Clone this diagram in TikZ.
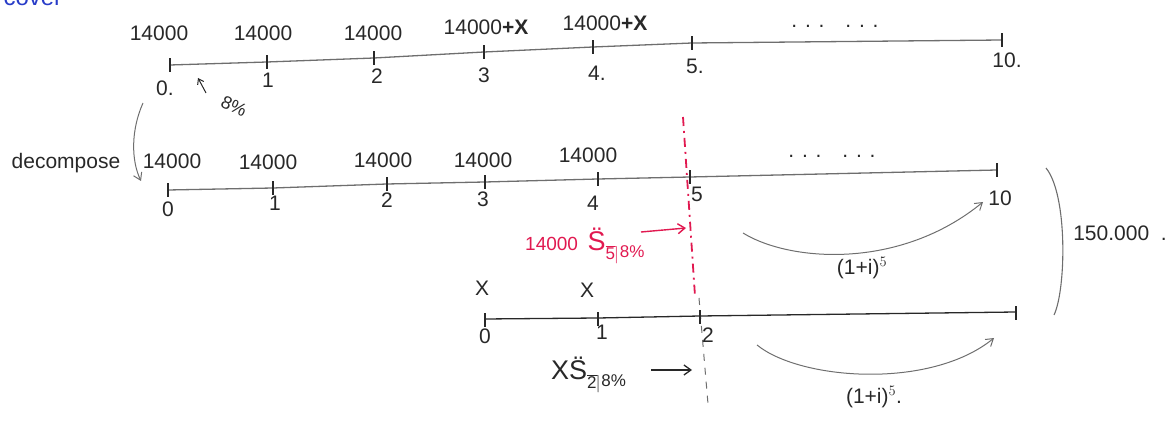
\documentclass[tikz,border=0pt]{standalone}
\usepackage{fontspec}
\setmainfont{Liberation Sans}
\usetikzlibrary{arrows.meta}
\definecolor{pen}{RGB}{40,40,40}
\definecolor{pencil}{RGB}{110,110,110}
\definecolor{redpen}{RGB}{225,25,80}
\definecolor{bluepen}{RGB}{40,60,200}
\newcommand{\angsub}[1]{\raisebox{-9pt}{\fontsize{17}{19}\selectfont$\overline{\mbox{#1}}\!\rceil$\raisebox{2pt}{8\%}}}
\tikzset{
  axis/.style={draw=pencil, line width=1.3pt},
  tk/.style={draw=pen, line width=1.1pt},
  lbl/.style={font=\fontsize{21}{23}\selectfont, text=pen, inner sep=1pt},
  small/.style={font=\fontsize{18}{20}\selectfont, text=pen, inner sep=0pt},
  curvearrow/.style={draw=pencil, line width=1pt, -{Straight Barb[length=7pt,width=9pt]}},
  pointer/.style={draw=pen, line width=1.3pt, -{Straight Barb[length=7pt,width=10pt]}},
}
\begin{document}
\begin{tikzpicture}[x=1pt,y=-1pt]
\useasboundingbox (0,0) rectangle (1176,427);

% partial blue heading cut off at top
\node[font=\fontsize{24}{26}\selectfont, text=bluepen, anchor=base west] (head) at (0,6) {cover};

% ---------- line 1 ----------
\coordinate (a0) at (170,65);
\coordinate (a1) at (267,62);
\coordinate (a2) at (374,58);
\coordinate (a3) at (484,52);
\coordinate (a4) at (593,47);
\coordinate (a5) at (692,43);
\coordinate (a10) at (1002,40);
\draw[axis] (a0) -- (a1) -- (a2) -- (a3) -- (a4) -- (a5) -- (a10);
\foreach \c in {a0,a1,a2,a3,a4,a5,a10}{\draw[tk] ([yshift=-7pt]\c) -- ([yshift=7pt]\c);}
\node[lbl] (t0) at (159,33) {14000};
\node[lbl] (t1) at (263,33) {14000};
\node[lbl] (t2) at (373,33) {14000};
\node[lbl] (t3) at (486,27) {14000\textbf{+X}};
\node[lbl] (t4) at (605,23) {14000\textbf{+X}};
\node[lbl] (tdots) at (835,26) {. . .\quad . . .};
\node[lbl] (b0) at (165,88) {0.};
\node[lbl] (b1) at (268,80) {1};
\node[lbl] (b2) at (377,76) {2};
\node[lbl] (b3) at (484,75) {3};
\node[lbl] (b4) at (597,73) {4.};
\node[lbl] (b5) at (695,66) {5.};
\node[lbl] (b10) at (1007,60) {10.};
\coordinate (ratetail) at (206,93);
\coordinate (ratetip) at (198,78);
\draw[pen, line width=1pt, -{Straight Barb[length=5pt,width=7pt]}] (ratetail) -- (ratetip);
\node[small, rotate=-25] (rate) at (234,106) {8\%};

% ---------- decompose ----------
\node[lbl] (dec) at (66,163) {decompose};
\coordinate (decs) at (143,103);
\coordinate (dece) at (141,181);
\draw[curvearrow] (decs) .. controls (131,130) and (131,160) .. (dece);

% ---------- line 2 ----------
\coordinate (c0) at (168,190);
\coordinate (c1) at (273,188);
\coordinate (c2) at (387,184);
\coordinate (c3) at (485,182);
\coordinate (c4) at (598,179);
\coordinate (c5) at (690,177);
\coordinate (c10) at (997,170);
\draw[axis] (c0) -- (c1) -- (c2) -- (c3) -- (c4) -- (c5) -- (c10);
\foreach \c in {c0,c1,c2,c3,c4,c5,c10}{\draw[tk] ([yshift=-7pt]\c) -- ([yshift=7pt]\c);}
\node[lbl] (u0) at (172,161) {14000};
\node[lbl] (u1) at (268,162) {14000};
\node[lbl] (u2) at (383,160) {14000};
\node[lbl] (u3) at (483,160) {14000};
\node[lbl] (u4) at (588,155) {14000};
\node[lbl] (udots) at (832,156) {. . .\quad . . .};
\node[lbl] (d0) at (168,209) {0};
\node[lbl] (d1) at (275,203) {1};
\node[lbl] (d2) at (387,200) {2};
\node[lbl] (d3) at (483,199) {3};
\node[lbl] (d4) at (593,203) {4};
\node[lbl] (d5) at (697,194) {5};
\node[lbl] (d10) at (1000,198) {10};

% red dash-dot vertical
\coordinate (rtop) at (683,117);
\coordinate (rbot) at (695,296);
\draw[draw=redpen, line width=1.8pt, dash pattern=on 9pt off 5pt on 2pt off 5pt] (rtop) -- (rbot);
\coordinate (gtop) at (699,298);
\coordinate (gbot) at (708,404);
\draw[draw=pencil, line width=1pt, dash pattern=on 7pt off 7pt] (gtop) -- (gbot);

% red annuity
\node[font=\fontsize{19}{21}\selectfont, text=redpen, anchor=west, inner sep=1pt] (red) at (524,246) {14000\enspace{\fontsize{27}{29}\selectfont\"S}\angsub{5}};
\coordinate (rarr1) at (641,232);
\coordinate (rarr2) at (686,228);
\draw[draw=redpen, line width=1.4pt, -{Straight Barb[length=7pt,width=10pt]}] (rarr1) -- (rarr2);

% top growth arrow
\coordinate (g1s) at (743,233);
\coordinate (g1e) at (983,202);
\draw[curvearrow] (g1s) .. controls (790,262) and (900,270) .. (g1e);
\node[lbl] (g1l) at (862,268) {(1+i)$^5$};

% big bracket and total
\coordinate (brt) at (1046,168);
\coordinate (brb) at (1054,315);
\draw[draw=pencil, line width=1.1pt] (brt) .. controls (1068,195) and (1066,290) .. (brb);
\node[lbl] (tot) at (1120,233) {150.000\ \ .};

% ---------- line 3 ----------
\coordinate (e0) at (485,319);
\coordinate (e1) at (598,318);
\coordinate (e2) at (700,316);
\coordinate (e5) at (1016,312);
\draw[axis, draw=pen] (e0) -- (e1) -- (e2) -- (e5);
\foreach \c in {e0,e1,e2,e5}{\draw[tk] ([yshift=-8pt]\c) -- ([yshift=6pt]\c);}
\node[lbl] (x0) at (482,288) {X};
\node[lbl] (x1) at (587,290) {X};
\node[lbl] (f0) at (485,336) {0};
\node[lbl] (f1) at (602,332) {1};
\node[lbl] (f2) at (708,335) {2};

\node[font=\fontsize{27}{29}\selectfont, text=pen, anchor=west, inner sep=1pt] (xs) at (550,375) {X\"S\angsub{2}};
\coordinate (xarr1) at (651,370);
\coordinate (xarr2) at (692,370);
\draw[pointer] (xarr1) -- (xarr2);

% bottom growth arrow
\coordinate (g2s) at (757,345);
\coordinate (g2e) at (994,338);
\draw[curvearrow] (g2s) .. controls (800,380) and (930,390) .. (g2e);
\node[lbl] (g2l) at (874,397) {(1+i)$^5$.};
\end{tikzpicture}
\end{document}
